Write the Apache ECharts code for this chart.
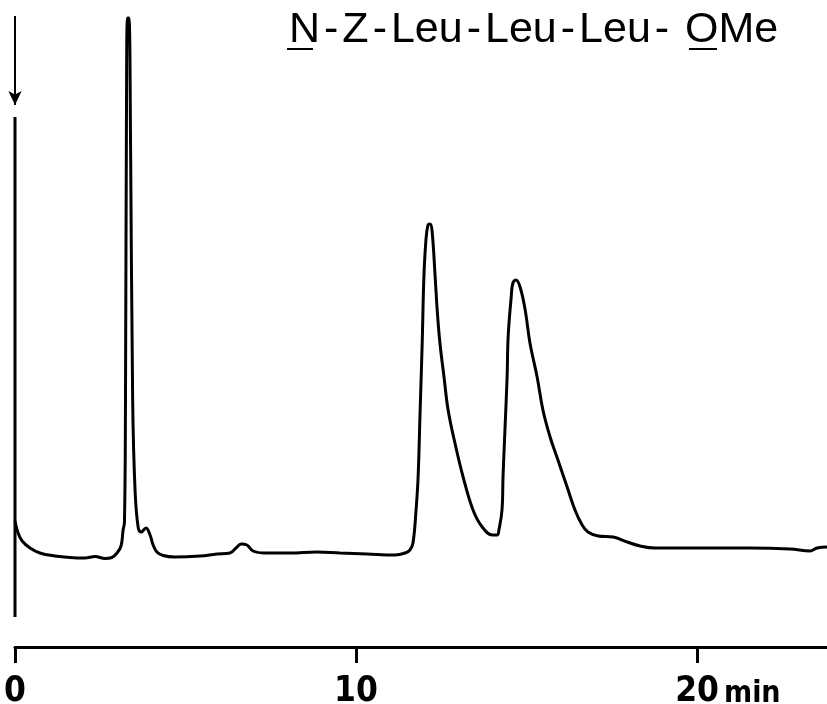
<!DOCTYPE html>
<html style="height: 100%">
<head>
    <meta charset="utf-8">
    <script src="https://cdn.jsdelivr.net/npm/echarts@6/dist/echarts.min.js"></script>
</head>
<body style="height: 100%;margin: 0;background: #fff">
<div id="chart" style="width: 827px; height: 704px;"></div>
<script type="text/javascript">
// retention time (min) and detector signal (arbitrary units, baseline ~0)
var timeMin = [
    0.00, 0.09, 0.21, 0.44, 0.73, 1.17, 1.61, 2.05, 2.35, 2.64, 2.84, 2.99, 3.11, 3.17, 3.21,
    3.24, 3.27, 3.30, 3.34, 3.39, 3.45, 3.52, 3.61, 3.70, 3.84, 3.96, 4.05, 4.16, 4.34, 4.69,
    5.43, 5.92, 6.30, 6.48, 6.63, 6.80, 6.98, 7.33, 8.06, 8.86, 9.53, 10.32, 11.14, 11.44,
    11.58, 11.67, 11.76, 11.82, 11.88, 11.94, 11.99, 12.05, 12.11, 12.17, 12.23, 12.32, 12.38,
    12.46, 12.58, 12.70, 12.90, 13.14, 13.43, 13.70, 14.00, 14.14, 14.19, 14.28, 14.31, 14.37,
    14.43, 14.46, 14.55, 14.60, 14.69, 14.81, 14.96, 15.10, 15.31, 15.48, 15.69, 15.92, 16.19,
    16.42, 16.63, 16.80, 17.10, 17.54, 17.95, 18.33, 18.77, 20.09, 21.55, 22.73, 23.31, 23.52,
    23.81
];
var signal = [
    3.6, 2.4, 1.6, 0.9, 0.4, 0.1, -0.05, -0.1, 0.05, -0.15, -0.05, 0.4, 1.1, 2.7, 3.5,
    15.7, 45.7, 53.9, 53.9, 40.7, 15.7, 6.7, 3.0, 2.5, 2.9, 2.2, 1.2, 0.5, 0.15, 0.0,
    0.1, 0.3, 0.4, 0.9, 1.3, 1.2, 0.6, 0.4, 0.4, 0.5, 0.4, 0.3, 0.2, 0.4,
    0.7, 1.4, 4.7, 8.0, 14.7, 21.4, 28.0, 31.7, 33.2, 33.3, 32.6, 28.0, 24.7,
    21.4, 18.0, 14.7, 11.4, 8.0, 4.7, 3.0, 2.2, 2.2, 2.7, 4.7, 8.0, 13.0,
    18.0, 22.0, 26.0, 27.4, 27.7, 27.0, 24.7, 21.4, 18.0, 14.7, 12.0, 9.7, 7.0,
    4.7, 3.2, 2.5, 2.1, 2.0, 1.5, 1.1, 0.9, 0.9, 0.9, 0.8, 0.6, 0.9,
    1.0
];
// injection marker at t = 0
var injectSignal = [44, -6];
var arrowSignal = [54.1, 45.2];
var tickLabels = ['0', '10', '20'];

var traceData = timeMin.map(function (t, i) { return [t, signal[i]]; });
var injectData = injectSignal.map(function (v) { return [0, v]; });

var labelFont = '"Liberation Sans Narrow", "DejaVu Sans Condensed", sans-serif';
var titleFont = '"Liberation Sans", Arial, sans-serif';

var myChart = echarts.init(document.getElementById('chart'));
var option = {
    animation: false,
    backgroundColor: '#fff',
    grid: {left: 15, right: 0, top: 7, bottom: 57, containLabel: false, outerBoundsMode: 'none'},
    xAxis: {
        type: 'value',
        min: 0,
        max: 23.81,
        interval: 10,
        splitLine: {show: false},
        axisLine: {onZero: false, lineStyle: {color: '#000', width: 3}},
        axisTick: {length: 16, lineStyle: {color: '#000', width: 3}},
        axisLabel: {
            margin: 27,
            showMaxLabel: false,
            color: '#000',
            fontFamily: labelFont,
            fontWeight: 'bold',
            fontSize: 35,
            formatter: function (v) { return tickLabels[Math.round(v / 10)] || ''; }
        }
    },
    yAxis: {
        type: 'value',
        min: -9,
        max: 55,
        show: false
    },
    title: {
        // title with wider bond dashes; N and O are underlined below
        text: '{a|N}{d|-}{a|Z}{d|-}{a|Leu}{d|-}{a|Leu}{d|-}{a|Leu}{d|-}{a| OMe}',
        left: 284,
        top: 4,
        textStyle: {
            fontFamily: titleFont,
            fontWeight: 'normal',
            fontSize: 43,
            color: '#000',
            rich: {
                a: {fontFamily: titleFont, fontSize: 43, color: '#000'},
                d: {fontFamily: titleFont, fontSize: 43, color: '#000', padding: [0, 4]}
            }
        }
    },
    graphic: [
        {type: 'text', left: 724, top: 679,
            style: {text: 'min', font: 'bold 30px ' + labelFont, fill: '#000'}},
        {type: 'line', shape: {x1: 287, y1: 49, x2: 313, y2: 49},
            style: {stroke: '#000', lineWidth: 2}},
        {type: 'line', shape: {x1: 689, y1: 49, x2: 717, y2: 49},
            style: {stroke: '#000', lineWidth: 2}}
    ],
    series: [
        {
            name: 'trace',
            type: 'line',
            data: traceData,
            showSymbol: false,
            smooth: 0.4,
            lineStyle: {color: '#000', width: 3},
            silent: true
        },
        {
            name: 'inject',
            type: 'line',
            data: injectData,
            showSymbol: false,
            lineStyle: {color: '#000', width: 3},
            silent: true,
            markLine: {
                silent: true,
                symbol: ['none', 'arrow'],
                symbolSize: [10, 14],
                label: {show: false},
                lineStyle: {color: '#000', width: 2, type: 'solid'},
                data: [[{coord: [0, arrowSignal[0]]}, {coord: [0, arrowSignal[1]]}]]
            }
        }
    ]
};
myChart.setOption(option);
</script>
</body>
</html>
